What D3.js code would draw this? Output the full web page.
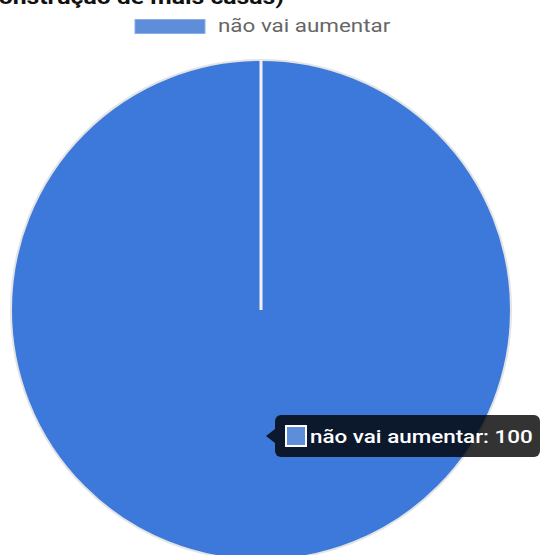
<!DOCTYPE html>
<html>
<head>
<meta charset="utf-8">
<script src="https://cdn.jsdelivr.net/npm/d3@7"></script>
<style>
  body { margin: 0; background: #fff; }
  svg { display: block; font-family: Roboto, "Noto Sans", sans-serif; }
</style>
</head>
<body>
<div id="root"></div>
<script>
const width = 542;
const height = 555;

// Data
const titleText = 'construção de mais casas)';
const categories = ['não vai aumentar'];
const values = [100];
const colors = ['#3c79db'];

// the screenshot is stretched sideways a little
const stretch = 1.18;

const chart = d3.select('#root')
  .append('svg:svg')
  .attr('width', width)
  .attr('height', height);

// Title (cut by the top of the frame)
chart.append('svg:text')
  .attr('transform', `translate(284,4) scale(${stretch},1)`)
  .attr('text-anchor', 'end')
  .attr('font-size', 21)
  .attr('font-weight', 'bold')
  .attr('fill', '#111')
  .text(titleText);

// Legend
const legend = chart.append('svg:g');
legend.selectAll('rect')
  .data(categories)
  .enter()
    .append('svg:rect')
    .attr('x', 135)
    .attr('y', 19.5)
    .attr('width', 70)
    .attr('height', 14)
    .attr('fill', '#5e8dda')
    .attr('stroke', '#8aaee6')
    .attr('stroke-width', 1);
legend.selectAll('text')
  .data(categories)
  .enter()
    .append('svg:text')
    .attr('transform', `translate(218,32) scale(${stretch},1)`)
    .attr('font-size', 19)
    .attr('fill', '#666')
    .text(d => d);

// Pie
const cx = 261, cy = 310, radius = 250;
const pie = d3.pie().sort(null);
const arcs = pie(values);
const arc = d3.arc().innerRadius(0).outerRadius(radius);

const g = chart.append('svg:g').attr('transform', `translate(${cx},${cy})`);
g.selectAll('path')
  .data(arcs)
  .enter()
    .append('svg:path')
    .attr('d', arc)
    .attr('fill', (d, i) => colors[i])
    .attr('stroke', '#e4e4e4')
    .attr('stroke-width', 2);

// slice border along the start edge
g.selectAll('line')
  .data(arcs)
  .enter()
    .append('svg:line')
    .attr('x1', 0)
    .attr('y1', 0)
    .attr('x2', d => d3.pointRadial(d.startAngle, radius)[0])
    .attr('y2', d => d3.pointRadial(d.startAngle, radius)[1])
    .attr('stroke', '#f2f2f2')
    .attr('stroke-width', 3);

// Tooltip
const tip = chart.append('svg:g').attr('transform', 'translate(275,415)');
tip.append('svg:path')
  .attr('d', 'M0,14 L-9,21 L0,28 Z')
  .attr('fill', 'rgba(0,0,0,0.8)');
tip.append('svg:rect')
  .attr('width', 265)
  .attr('height', 42)
  .attr('rx', 6)
  .attr('fill', 'rgba(0,0,0,0.8)');
tip.append('svg:rect')
  .attr('x', 11)
  .attr('y', 11)
  .attr('width', 20)
  .attr('height', 20)
  .attr('fill', '#5e8dda')
  .attr('stroke', '#fff')
  .attr('stroke-width', 2);
tip.append('svg:text')
  .attr('transform', `translate(35,28) scale(${stretch},1)`)
  .attr('font-size', 19)
  .attr('font-weight', 500)
  .attr('fill', '#fff')
  .text(`${categories[0]}: ${values[0]}`);
</script>
</body>
</html>
